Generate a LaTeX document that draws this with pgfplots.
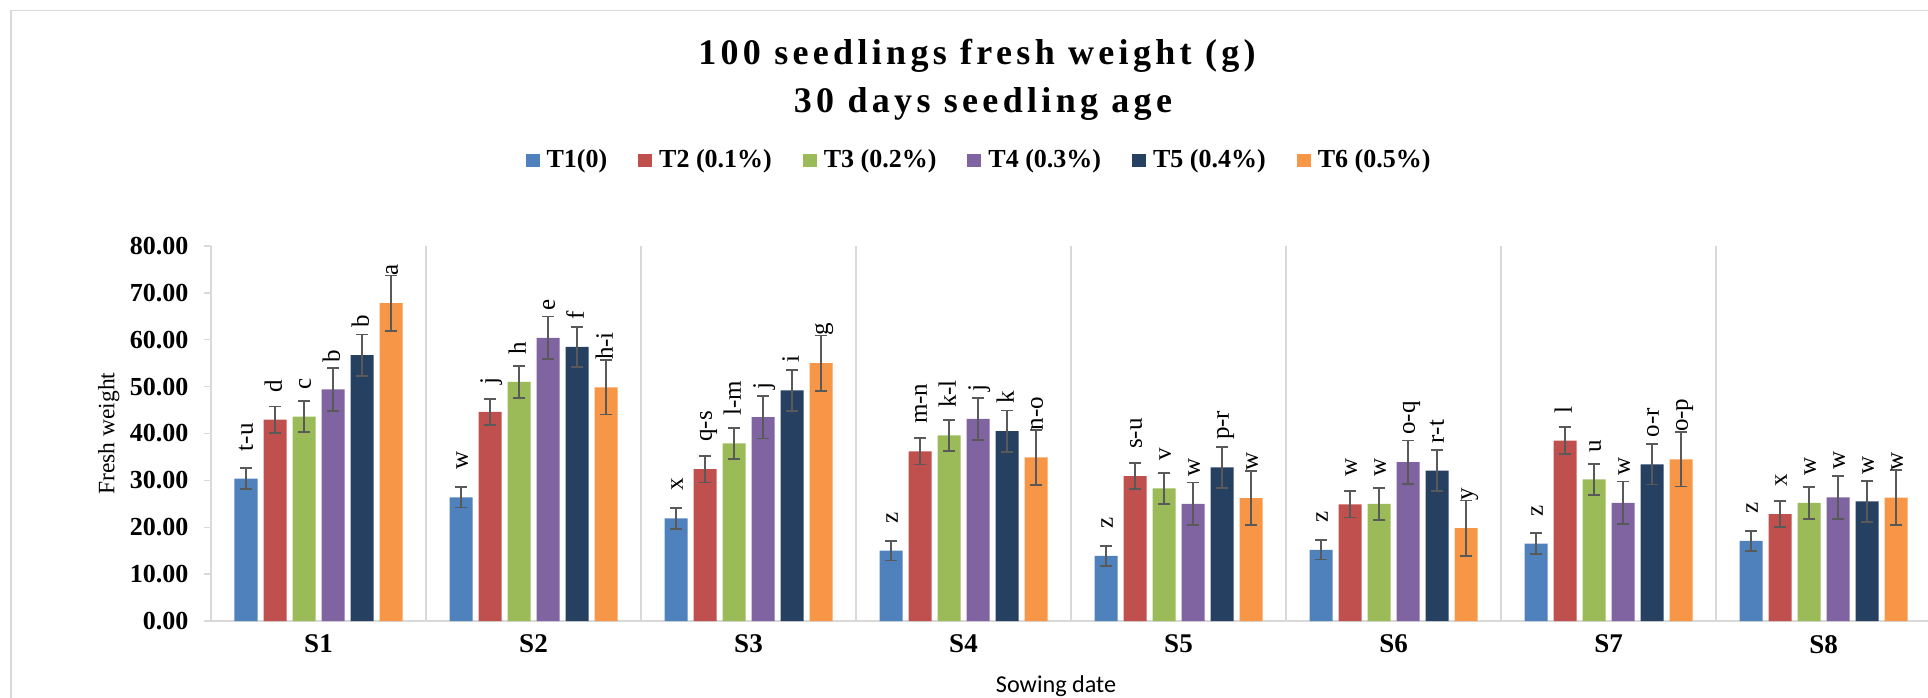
\documentclass[border=0pt]{standalone}
\usepackage{fontspec}
\setmainfont{Liberation Serif}
\newfontfamily\sowingfont{Carlito}
\newfontfamily\titlefont[LetterSpace=12]{Liberation Serif}
\usepackage{pgfplots}
\usepackage{pgfplotstable}
\pgfplotsset{compat=1.18}

\definecolor{cT1}{HTML}{4F81BD}
\definecolor{cT2}{HTML}{C0504D}
\definecolor{cT3}{HTML}{9BBB59}
\definecolor{cT4}{HTML}{8064A2}
\definecolor{cT5}{HTML}{254061}
\definecolor{cT6}{HTML}{F79646}
\definecolor{gridgray}{HTML}{D9D9D9}
\definecolor{errgray}{HTML}{595959}

\pgfplotsset{
  sqlegend/.style={legend image code/.code={\fill[##1] (0pt,-3.25pt) rectangle (7pt,3.25pt);}},
  errstyle/.style={error bars/.cd, y dir=both, y explicit,
    error bar style={errgray, line width=0.9pt},
    error mark options={rotate=90, mark size=3pt, errgray, line width=0.9pt}},
}

% sowing date, mean fresh weight, error, letter group
\pgfplotstableread{
x y e lbl
1 30.4 2.25 t-u
2 26.4 2.2 w
3 21.9 2.2 x
4 15.0 2.1 z
5 13.9 2.1 z
6 15.2 2.1 z
7 16.5 2.2 z
8 17.1 2.1 z
}\tOne
\pgfplotstableread{
x y e lbl
1 42.95 2.8 d
2 44.6 2.8 j
3 32.4 2.85 q-s
4 36.2 2.8 m-n
5 30.9 2.8 s-u
6 24.9 2.8 w
7 38.5 2.85 l
8 22.8 2.75 x
}\tTwo
\pgfplotstableread{
x y e lbl
1 43.6 3.3 c
2 51.0 3.4 h
3 37.9 3.35 l-m
4 39.6 3.3 k-l
5 28.3 3.3 v
6 25.0 3.4 w
7 30.2 3.35 u
8 25.2 3.4 w
}\tThree
\pgfplotstableread{
x y e lbl
1 49.4 4.55 b
2 60.4 4.55 e
3 43.5 4.55 j
4 43.1 4.5 j
5 25.0 4.55 w
6 33.9 4.6 o-q
7 25.2 4.55 w
8 26.4 4.6 w
}\tFour
\pgfplotstableread{
x y e lbl
1 56.7 4.4 b
2 58.5 4.3 f
3 49.2 4.35 i
4 40.5 4.4 k
5 32.8 4.4 p-r
6 32.1 4.4 r-t
7 33.4 4.3 o-r
8 25.5 4.4 w
}\tFive
\pgfplotstableread{
x y e lbl
1 67.8 5.9 a
2 49.85 5.8 h-i
3 55.0 5.9 g
4 34.9 5.9 n-o
5 26.2 5.8 w
6 19.8 5.9 y
7 34.5 5.8 o-p
8 26.3 5.9 w
}\tSix

\begin{document}
\begin{tikzpicture}
\useasboundingbox (0pt,0pt) rectangle (964pt,348.5pt);
\clip (0pt,0pt) rectangle (964pt,348.5pt);
% chart area frame
\draw[gridgray, line width=0.85pt] (5.5pt,-10pt) -- (5.5pt,343.2pt) -- (980pt,343.2pt);
% title
\node[anchor=base, font=\titlefont\bfseries\fontsize{18}{21}\selectfont] at (488.5pt,316pt) {100 seedlings fresh weight (g)};
\node[anchor=base, font=\titlefont\bfseries\fontsize{18}{21}\selectfont] at (491.5pt,292.35pt) {30 days seedling age};
\begin{axis}[
  at={(105.5pt,38pt)}, anchor=south west,
  scale only axis, width=860pt, height=187.5pt,
  xmin=0.5, xmax=8.5, ymin=0, ymax=80,
  clip=false,
  ybar=3pt, bar width=11.5pt,
  sqlegend,
  axis x line*=bottom, axis y line*=left,
  axis line style={gridgray, line width=0.75pt},
  tick align=outside,
  major tick length=3.5pt,
  ytick={0,10,...,80},
  ytick style={gridgray, line width=0.75pt},
  yticklabel style={font=\bfseries\fontsize{13}{15}\selectfont, xshift=-4.25pt},
  /pgf/number format/.cd, fixed, fixed zerofill, precision=2, assume math mode=true, 1000 sep={},
  /pgfplots/.cd,
  xtick={1,...,8},
  xticklabels={S1,S2,S3,S4,S5,S6,S7,S8},
  xticklabel style={font=\bfseries\fontsize{13.5}{15}\selectfont},
  x tick style={draw=none},
  extra x ticks={0.5,1.5,...,8.5},
  extra x tick labels={},
  extra x tick style={grid=major, major grid style={gridgray, line width=0.75pt},
    tick style={draw=gridgray, line width=0.75pt}},
  ylabel={Fresh weight},
  ylabel style={at={(axis description cs:-0.0595,0.5)}, anchor=center, font=\fontsize{11.75}{14}\selectfont},
  xlabel={Sowing date},
  xlabel style={at={(axis description cs:0.4913,-0.19)}, anchor=base, font=\sowingfont\fontsize{12.1}{14}\selectfont},
  point meta=explicit symbolic,
  nodes near coords,
  every node near coord/.append style={rotate=90, anchor=west, inner xsep=13.5pt, inner ysep=0pt,
    text height=0.9em, text depth=0.22em, black, font=\fontsize{12.5}{14}\selectfont},
  legend columns=6,
  legend style={at={(axis description cs:0.4468,1.2293)}, anchor=center, draw=none,
    font=\bfseries\fontsize{13}{15}\selectfont,
    nodes={inner xsep=1.5pt, inner ysep=0pt},
    /tikz/every odd column/.append style={column sep=2pt},
    /tikz/every even column/.append style={column sep=14pt}},
  legend cell align=left,
]
\addplot[fill=cT1, draw=none, errstyle] table[x=x, y=y, y error=e, meta=lbl] {\tOne};
\addplot[fill=cT2, draw=none, errstyle] table[x=x, y=y, y error=e, meta=lbl] {\tTwo};
\addplot[fill=cT3, draw=none, errstyle] table[x=x, y=y, y error=e, meta=lbl] {\tThree};
\addplot[fill=cT4, draw=none, errstyle] table[x=x, y=y, y error=e, meta=lbl] {\tFour};
\addplot[fill=cT5, draw=none, errstyle] table[x=x, y=y, y error=e, meta=lbl] {\tFive};
\addplot[fill=cT6, draw=none, errstyle] table[x=x, y=y, y error=e, meta=lbl] {\tSix};
\legend{T1(0), T2 (0.1\%), T3 (0.2\%), T4 (0.3\%), T5 (0.4\%), T6 (0.5\%)}
\end{axis}
\end{tikzpicture}
\end{document}
